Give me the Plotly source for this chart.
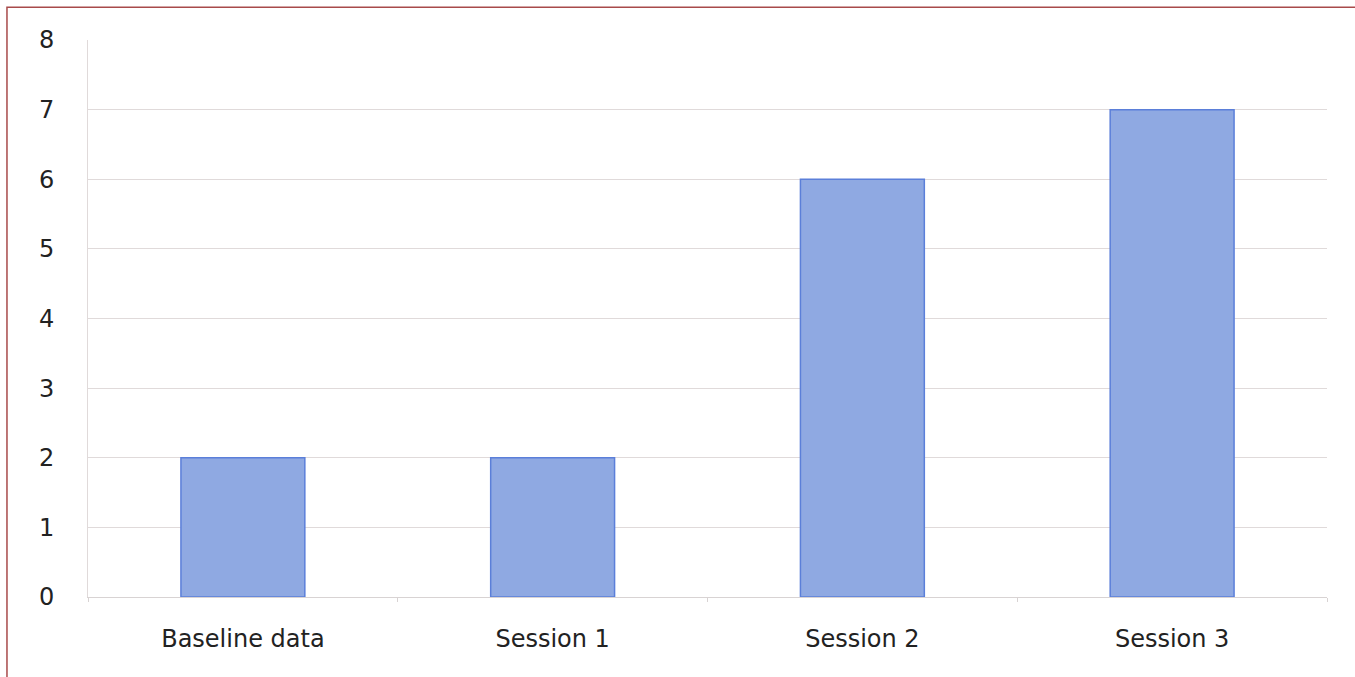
import plotly.graph_objects as go

categories = ["Baseline data", "Session 1", "Session 2", "Session 3"]
values = [2, 2, 6, 7]
y_ticks = [0, 1, 2, 3, 4, 5, 6, 7, 8]

fig = go.Figure()
fig.add_trace(go.Bar(
    x=categories, y=values,
    marker=dict(color="#8fa9e2", line=dict(color="#5b7fd9", width=1.5)),
    width=0.4,
))

fig.update_layout(
    width=1355, height=677,
    margin=dict(l=88, r=28, t=40, b=80),
    paper_bgcolor="white", plot_bgcolor="white",
    showlegend=False,
    font=dict(family="DejaVu Sans, sans-serif", size=24, color="#222"),
    xaxis=dict(
        showgrid=False, showline=True, linecolor="#d8d3d3", linewidth=1,
        ticks="outside", tickson="boundaries", ticklen=4, tickcolor="#d8d3d3",
        ticklabelstandoff=20, tickfont=dict(size=24),
    ),
    yaxis=dict(
        range=[0, 8], tickvals=y_ticks, showgrid=True, gridcolor="#e0dada", gridwidth=1,
        showline=True, linecolor="#e0dada", zeroline=False,
        ticks="", ticklabelstandoff=28, tickfont=dict(size=24),
    ),
    shapes=[dict(
        type="rect", xref="paper", yref="paper",
        x0=-0.0654, x1=1.03, y0=-0.2, y1=1.059,
        line=dict(color="#a84a4a", width=1.5),
    )],
)

fig.write_html("out.html")
